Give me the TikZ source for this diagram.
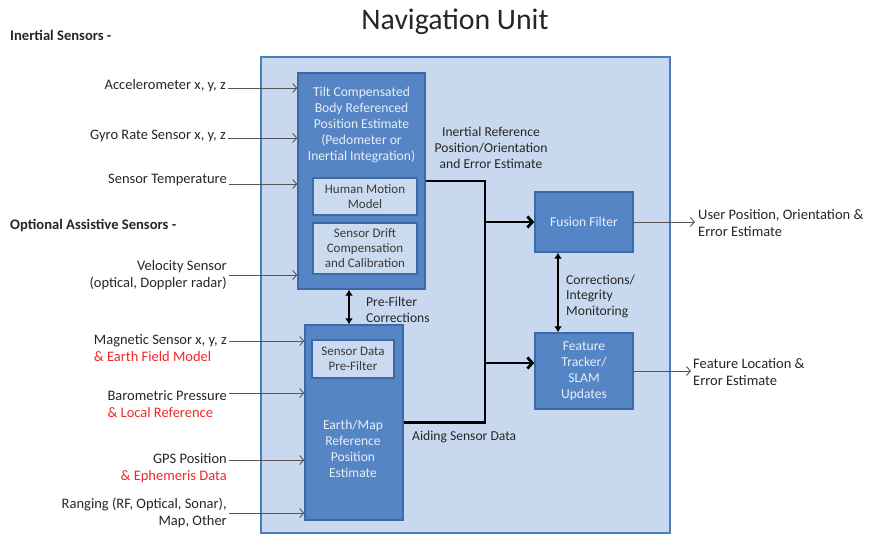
\documentclass[tikz,border=0pt]{standalone}
\usepackage{fontspec}
\setmainfont{Carlito}
\usetikzlibrary{arrows.meta}
\definecolor{outerfill}{HTML}{C8D9EF}
\definecolor{outerdraw}{HTML}{4A7EBB}
\definecolor{blockfill}{HTML}{5585C4}
\definecolor{blockdraw}{HTML}{3C6AA6}
\definecolor{subfill}{HTML}{CBDBEF}
\definecolor{txtdark}{HTML}{262626}
\definecolor{subtxt}{HTML}{3A3A3A}
\definecolor{blocktxt}{HTML}{E8EEF8}
\definecolor{redtxt}{HTML}{F02828}
\definecolor{thingray}{HTML}{555555}
\begin{document}
\begin{tikzpicture}[x=1pt,y=-1pt,
  every node/.style={font=\fontsize{14.5}{17.5}\selectfont, text=txtdark},
  sl/.style={inner sep=2pt, text height=10pt, text depth=3pt},
  ml/.style={inner sep=2pt},
  inlbl/.style={font=\fontsize{13.6}{16}\selectfont},
  hdr/.style={sl, anchor=west, font=\bfseries\fontsize{14.6}{17.5}\selectfont},
  block/.style={draw=blockdraw, fill=blockfill, line width=1.4pt, inner sep=0pt},
  blocktext/.style={align=center, text=blocktxt, font=\fontsize{13.6}{16}\selectfont},
  subbox/.style={draw=blockdraw, fill=subfill, line width=1.2pt, align=center, text=subtxt, font=\fontsize{13}{15}\selectfont, inner sep=0pt},
  thinarr/.style={draw=thingray, line width=0.9pt, -{Straight Barb[length=4pt,width=9pt]}},
  thickline/.style={draw=black, line width=2.8pt},
  thickarr/.style={thickline, -{Straight Barb[length=5pt,width=11pt]}},
  dblarr/.style={draw=black, line width=2.2pt, {Latex[length=6pt,width=8pt]}-{Latex[length=6pt,width=8pt]}}
]
\useasboundingbox (0,0) rectangle (876,535);

% title and outer unit
\node[font=\fontsize{29.8}{34}\selectfont] (title) at (455,22) {Navigation Unit};
\node[draw=outerdraw, fill=outerfill, line width=1.5pt, minimum width=409pt, minimum height=476pt, inner sep=0pt] (unit) at (465.5,295) {};

% blocks
\node[block, minimum width=127pt, minimum height=216pt] (tilt) at (361.5,181) {};
\node[blocktext] (tilttxt) at (361.5,124.5) {Tilt Compensated\\Body Referenced\\Position Estimate\\(Pedometer or\\Inertial Integration)};
\node[subbox, minimum width=104pt, minimum height=37pt] (human) at (365,196.5) {Human Motion\\Model};
\node[subbox, minimum width=104pt, minimum height=51pt] (drift) at (365,248.5) {Sensor Drift\\Compensation\\and Calibration};

\node[block, minimum width=98pt, minimum height=195pt] (earth) at (354,422.5) {};
\node[subbox, minimum width=82pt, minimum height=38pt] (prefilt) at (353,359) {Sensor Data\\Pre-Filter};
\node[blocktext] (earthtxt) at (353,448.5) {Earth/Map\\Reference\\Position\\Estimate};

\node[block, minimum width=98pt, minimum height=60pt, blocktext] (fusion) at (584,222) {Fusion Filter};
\node[block, minimum width=98pt, minimum height=76pt, blocktext] (feature) at (584,371) {Feature\\Tracker/\\SLAM\\Updates};

% headers
\node[hdr] (hinert) at (8,37) {Inertial Sensors -};
\node[hdr] (hopt) at (8,226) {Optional Assistive Sensors -};

% input labels
\node[sl, anchor=east] (accel) at (228,86) {Accelerometer x, y, z};
\node[sl, anchor=east] (gyro) at (228,136) {Gyro Rate Sensor x, y, z};
\node[sl, anchor=east] (temp) at (229,180) {Sensor Temperature};
\node[ml, anchor=east, align=right] (vel) at (229,275) {Velocity Sensor\\(optical, Doppler radar)};
\node[sl, anchor=east] (mag) at (229,341) {Magnetic Sensor x, y, z};
\node[sl, anchor=north west, text=redtxt] (magr) at (mag.south west) {\& Earth Field Model};
\node[sl, anchor=east] (baro) at (229,397) {Barometric Pressure};
\node[sl, anchor=north west, text=redtxt] (baror) at (baro.south west) {\& Local Reference};
\node[sl, anchor=east] (gps) at (229,460) {GPS Position};
\node[sl, anchor=north east, text=redtxt] (gpsr) at (gps.south east) {\& Ephemeris Data};
\node[ml, anchor=east, align=right] (rang) at (229,513) {Ranging (RF, Optical, Sonar),\\Map, Other};

% input arrows
\draw[thinarr] ([yshift=-2pt]accel.east) -- ([yshift=-2pt]accel.east -| tilt.west);
\draw[thinarr] ([yshift=-2pt]gyro.east) -- ([yshift=-2pt]gyro.east -| tilt.west);
\draw[thinarr] ([yshift=-4pt]temp.east) -- ([yshift=-4pt]temp.east -| tilt.west);
\draw[thinarr] (vel.east) -- (vel.east -| tilt.west);
\draw[thinarr] (mag.east) -- (mag.east -| earth.west);
\draw[thinarr] ([yshift=4pt]baro.east) -- ([yshift=4pt]baro.east -| earth.west);
\draw[thinarr] (gps.east) -- (gps.east -| earth.west);
\draw[thinarr] (rang.east) -- (rang.east -| earth.west);

% thick data lines
\coordinate (bus) at (485,0);
\draw[thickline] (tilt.east) -| (bus |- earth.east) -- (earth.east);
\draw[thickarr] (bus |- fusion.west) -- (fusion.west);
\draw[thickarr] ([yshift=8pt]feature.west -| bus) -- ([yshift=8pt]feature.west);

% double arrows
\coordinate (pf) at (349,0);
\draw[dblarr] (tilt.south -| pf) -- (earth.north -| pf);
\coordinate (cm) at (558,0);
\draw[dblarr] (fusion.south -| cm) -- (feature.north -| cm);

% inner labels
\node[inlbl, align=center] (inref) at (491,147.5) {Inertial Reference\\Position/Orientation\\and Error Estimate};
\node[ml, inlbl, anchor=west, align=left] (pftxt) at (364,310) {Pre-Filter\\Corrections};
\node[ml, inlbl, anchor=west, align=left, font=\fontsize{13.6}{15.5}\selectfont] (cmtxt) at (564,296) {Corrections/\\Integrity\\Monitoring};
\node[sl, inlbl, anchor=west] (aiding) at (410,437) {Aiding Sensor Data};

% outputs
\node[ml, anchor=west, align=left, inner sep=3pt] (out1) at (695,223) {User Position, Orientation \&\\Error Estimate};
\node[ml, anchor=west, align=left] (out2) at (691,372) {Feature Location \&\\Error Estimate};
\draw[thinarr] (fusion.east) -- (fusion.east -| out1.west);
\draw[thinarr] (feature.east) -- (feature.east -| out2.west);
\end{tikzpicture}
\end{document}
